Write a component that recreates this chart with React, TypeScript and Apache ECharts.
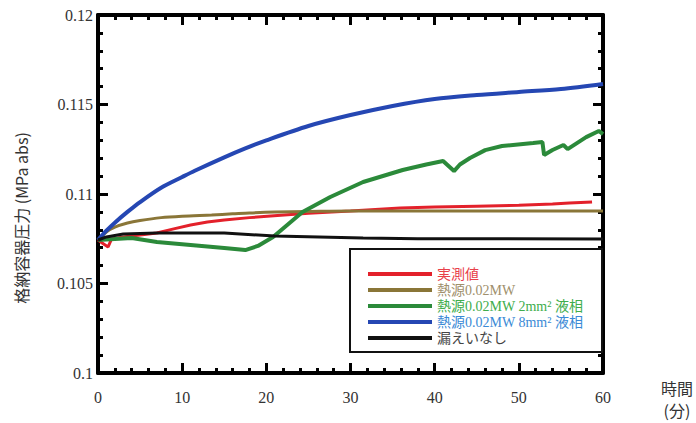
import React, { useEffect, useRef } from "react";
import * as echarts from "echarts";

// ---- data (time in minutes, pressure in MPa abs) ----
const legendNames = ["実測値", "熱源0.02MW", "熱源0.02MW 2mm² 液相", "熱源0.02MW 8mm² 液相", "漏えいなし"];

const measuredT = [0, 0.5, 1.2, 1.6, 3, 5, 7, 9, 11, 13, 15, 18, 20.5, 25, 30, 35.9, 40, 45, 50, 54, 56, 58.7];
const measuredP = [0.10743, 0.10726, 0.10704, 0.10748, 0.1076, 0.10771, 0.10782, 0.10805, 0.10827, 0.10843, 0.10855, 0.10868, 0.10877, 0.10893, 0.10905, 0.10922, 0.10927, 0.10932, 0.10937, 0.10944, 0.1095, 0.10955];

const heatT = [0, 1, 2, 3.5, 5, 7.5, 10, 13.5, 16, 18, 21, 25, 30, 40, 50, 60];
const heatP = [0.10743, 0.10788, 0.10815, 0.10838, 0.10852, 0.10868, 0.10876, 0.10883, 0.10889, 0.10894, 0.10899, 0.10902, 0.10905, 0.10905, 0.10905, 0.10905];

const leak2T = [0, 2, 4, 7, 11, 15, 17.5, 19, 20.8, 24.3, 27.6, 31.5, 36.2, 39, 41, 42.3, 43, 44.2, 46, 48, 51.7, 52.8, 53.0, 54, 55.3, 55.8, 58, 59.5, 60];
const leak2P = [0.10743, 0.10748, 0.10754, 0.10732, 0.10715, 0.10698, 0.10687, 0.1071, 0.1076, 0.10899, 0.10983, 0.11067, 0.11134, 0.11165, 0.11184, 0.11128, 0.11165, 0.11201, 0.11245, 0.11268, 0.11285, 0.11291, 0.11218, 0.11246, 0.11274, 0.11251, 0.11318, 0.11352, 0.11335];

const leak8T = [0, 1, 2, 3.5, 5, 7.5, 10, 11.5, 15, 17.5, 20, 25, 30, 35, 40, 45, 50, 55, 60];
const leak8P = [0.10743, 0.10795, 0.1084, 0.109, 0.10955, 0.11035, 0.11095, 0.1113, 0.11205, 0.11255, 0.113, 0.1138, 0.11441, 0.11492, 0.11531, 0.11553, 0.1157, 0.11587, 0.11615];

const noLeakT = [0, 1, 3, 7, 15, 21, 31.5, 38, 46, 60];
const noLeakP = [0.10743, 0.1076, 0.10776, 0.10782, 0.10782, 0.10765, 0.10754, 0.1075, 0.1075, 0.10748];

const lineColors = ["#e3212b", "#8a7638", "#2b8a3a", "#2547b3", "#111111"];
const textColors = ["#e8404a", "#a08f6c", "#40ad4c", "#3a8ad6", "#444444"];
const smoothing = [0, 0.3, 0, 0.3, 0];

const pairs = (t: number[], p: number[]) => t.map((x, i) => [x, p[i]]);

const SERIF = '"Liberation Serif", "Noto Sans CJK JP", serif';

export default function App() {
  const ref = useRef<HTMLDivElement>(null);
  useEffect(() => {
    if (!ref.current) return;
    const chart = echarts.init(ref.current, undefined, { renderer: "svg" });
    const axisLine = { show: true, onZero: false, lineStyle: { color: "#000", width: 4 } };
    const tick = { show: true, inside: true, length: 10, lineStyle: { color: "#000", width: 3 } };
    const minor = { show: true, splitNumber: 5, length: 5, lineStyle: { color: "#000", width: 3 } };
    const xBase = { type: "value", min: 0, max: 60, interval: 10, splitLine: { show: false }, axisLine, axisTick: tick, minorTick: minor };
    const yBase = { type: "value", min: 0.1, max: 0.12, interval: 0.005, splitLine: { show: false }, axisLine, axisTick: tick, minorTick: minor };
    const data = [
      pairs(measuredT, measuredP),
      pairs(heatT, heatP),
      pairs(leak2T, leak2P),
      pairs(leak8T, leak8P),
      pairs(noLeakT, noLeakP),
    ];
    const widths = [3, 3, 4, 4, 3];
    const drawOrder = [4, 1, 0, 2, 3];
    chart.setOption({
      animation: false,
      grid: { left: 98, right: 93, top: 15, bottom: 50 },
      xAxis: [
        { ...xBase, position: "bottom", axisLabel: { margin: 16, fontFamily: SERIF, fontSize: 16, color: "#333" } },
        { ...xBase, position: "top", axisLabel: { show: false } },
      ],
      yAxis: [
        { ...yBase, position: "left", axisLabel: { margin: 5, fontFamily: SERIF, fontSize: 16, color: "#333" } },
        { ...yBase, position: "right", axisLabel: { show: false } },
      ],
      legend: {
        orient: "vertical",
        left: 363,
        top: 262,
        itemWidth: 64,
        itemHeight: 4,
        itemGap: 2,
        icon: "rect",
        z: 10,
        textStyle: { fontFamily: SERIF, fontSize: 14, lineHeight: 14 },
        data: legendNames.map((n, i) => ({ name: n, textStyle: { color: textColors[i] } })),
      },
      graphic: [
        {
          type: "rect",
          z: 3,
          shape: { x: 350, y: 249, width: 252, height: 103 },
          style: { fill: "#fff", stroke: "#111", lineWidth: 2 },
        },
        {
          type: "text",
          x: 21,
          y: 218,
          rotation: Math.PI / 2,
          style: { text: "格納容器圧力 (MPa abs)", font: '16px "Noto Sans CJK JP", "Liberation Serif"', fill: "#333", align: "center", verticalAlign: "middle" },
        },
        {
          type: "text",
          x: 677,
          y: 388,
          style: { text: "時間", font: '16px "Noto Sans CJK JP"', fill: "#333", align: "center", verticalAlign: "middle" },
        },
        {
          type: "text",
          x: 677,
          y: 410,
          style: { text: "(分)", font: '16px "Noto Sans CJK JP"', fill: "#333", align: "center", verticalAlign: "middle" },
        },
      ],
      series: drawOrder.map((i) => ({
        type: "line",
        name: legendNames[i],
        data: data[i],
        showSymbol: false,
        smooth: smoothing[i],
        color: lineColors[i],
        lineStyle: { width: widths[i], color: lineColors[i] },
        itemStyle: { color: lineColors[i] },
        xAxisIndex: 0,
        yAxisIndex: 0,
        z: 2 + i,
      })),
    });
    return () => chart.dispose();
  }, []);
  return <div ref={ref} style={{ position: "fixed", left: 0, top: 0, width: 696, height: 423, background: "#fff" }} />;
}
